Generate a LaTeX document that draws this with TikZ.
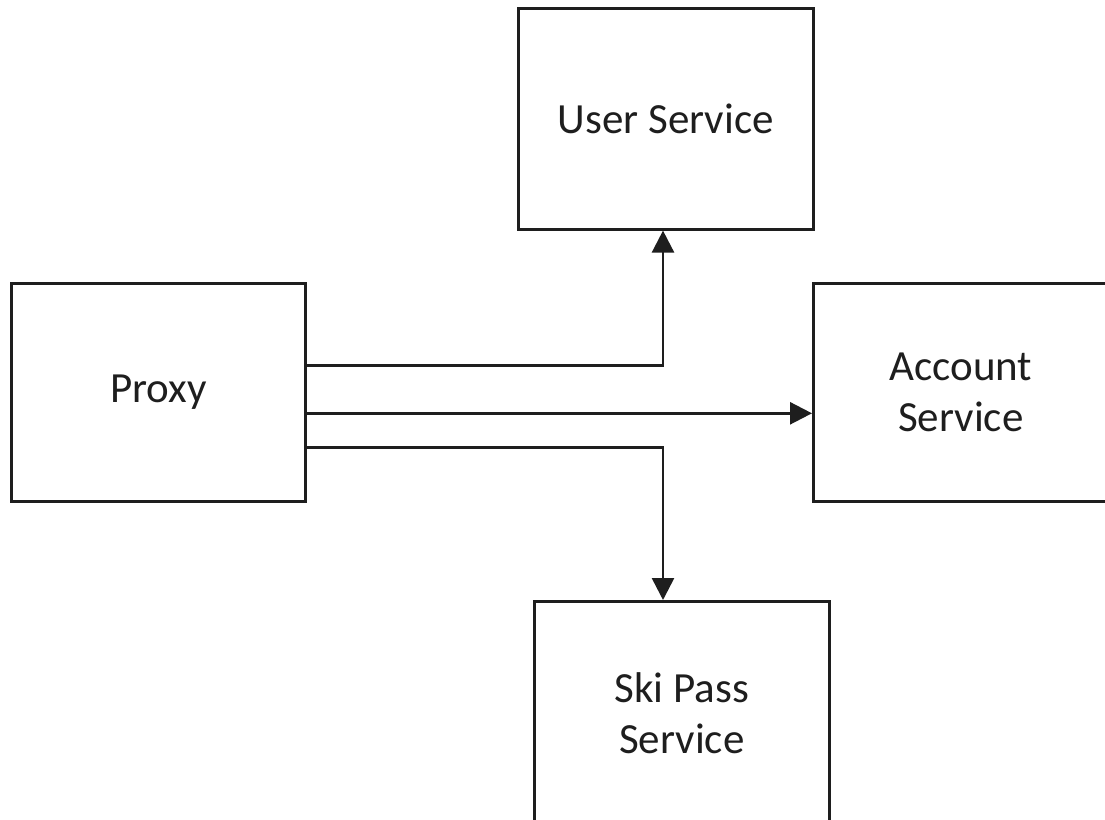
\documentclass[tikz,border=0pt]{standalone}
\usepackage{fontspec}
\setmainfont{Carlito}
\usetikzlibrary{arrows.meta}
\definecolor{ink}{HTML}{1E1E1E}
\begin{document}
\begin{tikzpicture}[x=1pt,y=-1pt,
  box/.style={draw=ink, line width=2.6pt, anchor=north west, align=center,
    inner sep=0pt, text=ink, font=\fontsize{43}{51}\selectfont},
  link/.style={draw=ink, line width=2.6pt, -{Triangle[width=22pt,length=22pt]}}]
  \useasboundingbox (0,0) rectangle (1105,819);
  \clip (0,0) rectangle (1105,819);
  \fill[white] (0,0) rectangle (1105,819);

  \node[box, minimum width=295pt, minimum height=221pt] (user) at (517,7) {User Service};
  \node[box, minimum width=294pt, minimum height=218pt] (proxy) at (10,282) {Proxy};
  \node[box, minimum width=295pt, minimum height=218pt] (account) at (812,282) {Account\\Service};
  \node[box, minimum width=295pt, minimum height=224pt] (ski) at (533,600) {Ski Pass\\Service};

  \coordinate (trunk) at (663,0);

  \draw[link] ([yshift=27pt]proxy.east) -| (user.south -| trunk);
  \draw[link] ([yshift=-21pt]proxy.east) coordinate (mid) -- (mid -| account.west);
  \draw[link] ([yshift=-55pt]proxy.east) -| (ski.north -| trunk);
\end{tikzpicture}
\end{document}
